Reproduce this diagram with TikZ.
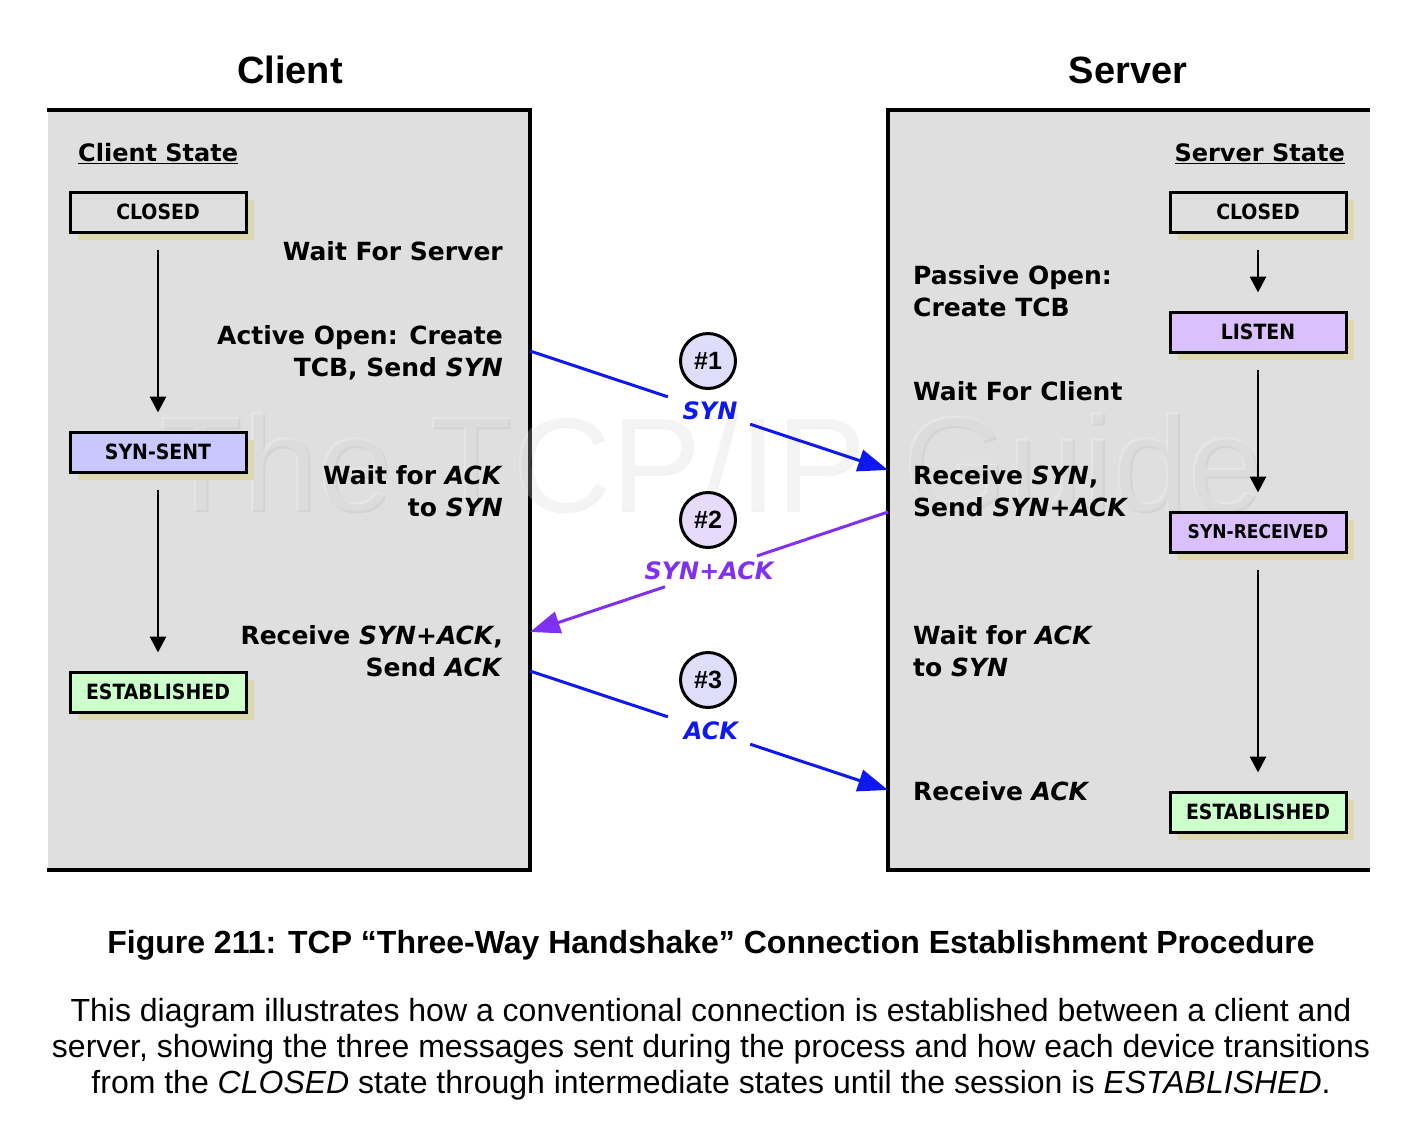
\documentclass[tikz,border=0pt]{standalone}
\usepackage{fontspec}
\setmainfont{DejaVu Sans}
\newfontfamily\arialf{Liberation Sans}
\newfontfamily\condf{DejaVu Sans Condensed}
\usetikzlibrary{arrows.meta,shadows,calc}

\definecolor{panelgray}{RGB}{223,223,223}
\definecolor{shadowtan}{RGB}{222,216,176}
\definecolor{synsentc}{RGB}{200,200,255}
\definecolor{listenc}{RGB}{218,192,252}
\definecolor{estc}{RGB}{204,255,204}
\definecolor{msgblue}{RGB}{16,24,240}
\definecolor{msgpurple}{RGB}{128,48,240}
\definecolor{circblue}{RGB}{222,222,250}
\definecolor{circpurple}{RGB}{232,218,250}

\begin{document}
\begin{tikzpicture}[x=1pt,y=-1pt,
  panelline/.style={line width=4pt, line join=miter},
  statebox/.style={draw=black, line width=3pt, minimum width=176pt, minimum height=40pt,
    inner sep=0pt, font=\condf\bfseries\fontsize{21}{24}\selectfont,
    drop shadow={shadow xshift=8pt, shadow yshift=-8pt, fill=shadowtan, opacity=1}},
  lbl/.style={font=\bfseries\fontsize{25}{32}\selectfont, inner sep=0pt},
  hdr/.style={font=\bfseries\fontsize{24}{30}\selectfont, inner sep=0pt},
  title/.style={font=\arialf\bfseries\fontsize{38}{42}\selectfont, inner sep=0pt},
  stateflow/.style={line width=2.8pt, -{Triangle[length=16pt,width=16pt]},
    shorten <=16pt, shorten >=18pt},
  msgline/.style={line width=3pt},
  msgtip/.style={line width=3pt, -{Triangle[length=30pt,width=22pt]}},
  circ/.style={circle, draw=black, line width=3pt, minimum size=55pt, inner sep=0pt,
    font=\arialf\bfseries\fontsize{25}{28}\selectfont},
  msglbl/.style={font=\bfseries\itshape\fontsize{24}{28}\selectfont, inner sep=0pt},
  wmark/.style={font=\arialf\fontsize{135}{140}\selectfont, inner sep=0pt},
  captxt/.style={font=\arialf\fontsize{32}{36}\selectfont, anchor=base, inner sep=0pt}
]
\useasboundingbox (0,0) rectangle (1404,1122);
\fill[white] (0,0) rectangle (1404,1122);

% titles
\node[title, anchor=base] (tclient) at (290,83) {Client};
\node[title, anchor=base] (tserver) at (1128,83) {Server};

% panels
\fill[panelgray] (48,110) rectangle (530,870);
\fill[panelgray] (888,110) rectangle (1370,870);
\draw[panelline] (47,110) -- (530,110) -- (530,870) -- (47,870);
\draw[panelline] (1370,110) -- (888,110) -- (888,870) -- (1370,870);

% watermark
\node[wmark, anchor=base, text=black, opacity=0.05] (wm) at (713,512) {The TCP/IP Guide};
\node[wmark, anchor=base, text=white, opacity=0.22] (wm2) at (711,510) {The TCP/IP Guide};

% client states
\node[hdr, anchor=base west] (chdr) at (78,161) {\underline{Client State}};
\node[statebox, fill=panelgray] (ccl) at (158,212) {CLOSED};
\node[statebox, fill=synsentc] (css) at (158,452) {SYN-SENT};
\node[statebox, fill=estc] (cest) at (158,692) {ESTABLISHED};
\draw[stateflow] (ccl) -- (css);
\draw[stateflow] (css) -- (cest);

% client labels
\node[lbl, anchor=base east] (cw1) at (503,260) {Wait For Server};
\node[lbl, anchor=base east] (ca1) at (503,344) {Active Open: Create};
\node[lbl, anchor=base east] (ca2) at (503,376) {TCB, Send \textit{SYN}};
\node[lbl, anchor=base east] (cw2) at (503,484) {Wait for \textit{ACK}};
\node[lbl, anchor=base east] (cw3) at (503,516) {to \textit{SYN}};
\node[lbl, anchor=base east] (cr1) at (503,644) {Receive \textit{SYN+ACK},};
\node[lbl, anchor=base east] (cr2) at (503,676) {Send \textit{ACK}};

% server states
\node[hdr, anchor=base east] (shdr) at (1345,161) {\underline{Server State}};
\node[statebox, fill=panelgray] (scl) at (1258,212) {CLOSED};
\node[statebox, fill=listenc] (sli) at (1258,332) {LISTEN};
\node[statebox, fill=listenc, font=\condf\bfseries\fontsize{19}{22}\selectfont] (ssr) at (1258,532) {SYN-RECEIVED};
\node[statebox, fill=estc] (sest) at (1258,812) {ESTABLISHED};
\draw[stateflow] (scl) -- (sli);
\draw[stateflow] (sli) -- (ssr);
\draw[stateflow] (ssr) -- (sest);

% server labels
\node[lbl, anchor=base west] (sp1) at (913,284) {Passive Open:};
\node[lbl, anchor=base west] (sp2) at (913,316) {Create TCB};
\node[lbl, anchor=base west] (sw1) at (913,400) {Wait For Client};
\node[lbl, anchor=base west] (sr1) at (913,484) {Receive \textit{SYN},};
\node[lbl, anchor=base west] (sr2) at (913,516) {Send \textit{SYN+ACK}};
\node[lbl, anchor=base west] (sw2) at (913,644) {Wait for \textit{ACK}};
\node[lbl, anchor=base west] (sw3) at (913,676) {to \textit{SYN}};
\node[lbl, anchor=base west] (sr3) at (913,800) {Receive \textit{ACK}};

% message endpoints
\coordinate (c1) at (530,351);
\coordinate (s1) at (888,470);
\coordinate (s2) at (888,512);
\coordinate (c2) at (530,632);
\coordinate (c3) at (530,671);
\coordinate (s3) at (888,790);

% message 1
\node[circ, fill=circblue] (m1) at (708,361) {\#1};
\node[msglbl, text=msgblue, anchor=base] (l1) at (710,419) {SYN};
\draw[msgline, msgblue] (c1) -- ($(c1)!0.385!(s1)$);
\draw[msgtip, msgblue] ($(c1)!0.615!(s1)$) -- (s1);

% message 2
\node[circ, fill=circpurple] (m2) at (708,520) {\#2};
\node[msglbl, text=msgpurple, anchor=base] (l2) at (709,579) {SYN+ACK};
\draw[msgline, msgpurple] (s2) -- ($(s2)!0.366!(c2)$);
\draw[msgtip, msgpurple] ($(s2)!0.623!(c2)$) -- (c2);

% message 3
\node[circ, fill=circblue] (m3) at (708,680) {\#3};
\node[msglbl, text=msgblue, anchor=base] (l3) at (711,739) {ACK};
\draw[msgline, msgblue] (c3) -- ($(c3)!0.385!(s3)$);
\draw[msgtip, msgblue] ($(c3)!0.615!(s3)$) -- (s3);

% caption
\node[captxt, font=\arialf\bfseries\fontsize{32}{36}\selectfont] (cap) at (711,953)
  {Figure 211: TCP “Three-Way Handshake” Connection Establishment Procedure};
\node[captxt] (d1) at (711,1021)
  {This diagram illustrates how a conventional connection is established between a client and};
\node[captxt] (d2) at (711,1057)
  {server, showing the three messages sent during the process and how each device transitions};
\node[captxt] (d3) at (711,1093)
  {from the \textit{CLOSED} state through intermediate states until the session is \textit{ESTABLISHED}.};
\end{tikzpicture}
\end{document}
